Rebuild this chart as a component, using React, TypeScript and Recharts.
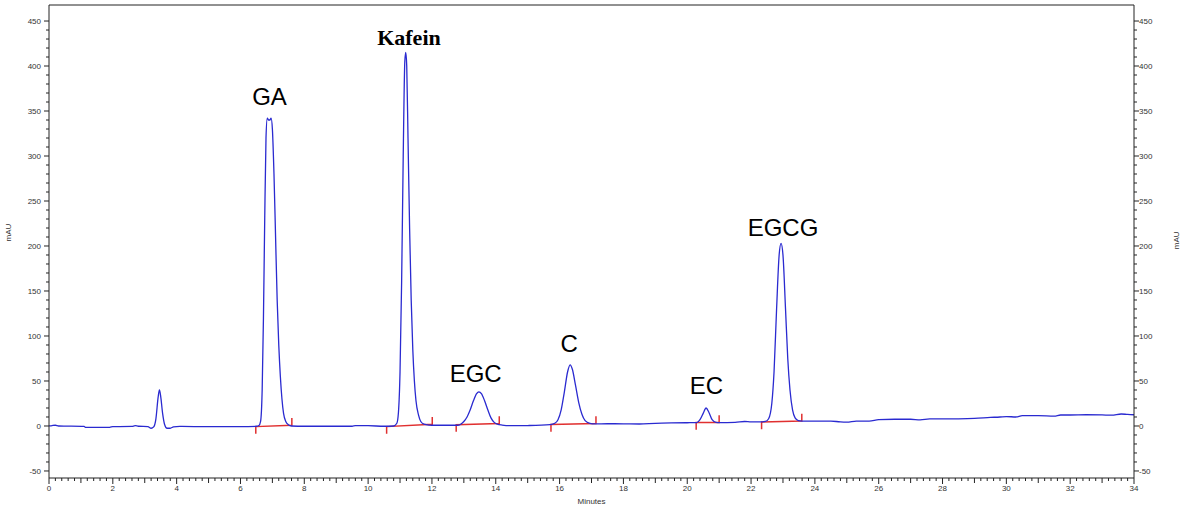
import React from "react";
import {
  ComposedChart,
  Line,
  XAxis,
  YAxis,
  Scatter,
  ReferenceLine,
} from "recharts";

// ---- chromatogram trace (minutes, mAU) ----
const traceTimes = [
  0, 0.1, 0.2, 0.3, 1.1, 1.15, 1.9, 2.0, 2.6, 2.7, 2.8, 3.1, 3.2, 3.28, 3.35, 3.42, 3.46, 3.5, 3.56, 3.62,
  3.7, 3.8, 3.9, 4.1, 5.0, 6.0, 6.5, 6.58, 6.63, 6.68, 6.72, 6.76, 6.8, 6.84, 6.88, 6.92, 6.96, 7.0, 7.05,
  7.1, 7.15, 7.2, 7.25, 7.3, 7.35, 7.42, 7.5, 7.6, 8.0, 9.5, 9.6, 10.0, 10.5, 10.8, 10.9, 10.95, 11.0,
  11.05, 11.1, 11.15, 11.18, 11.21, 11.25, 11.3, 11.35, 11.4, 11.45, 11.5, 11.58, 11.65, 11.75, 11.9,
  12.1, 12.8, 12.9, 13.0, 13.1, 13.2, 13.3, 13.4, 13.47, 13.55, 13.65, 13.75, 13.85, 13.95, 14.05, 14.2,
  14.5, 15.0, 15.7, 15.85, 15.95, 16.05, 16.15, 16.25, 16.33, 16.4, 16.5, 16.6, 16.7, 16.8, 16.95, 17.1,
  17.5, 18.0, 18.5, 19.0, 19.5, 20.0, 20.3, 20.4, 20.5, 20.59, 20.68, 20.78, 20.9, 21.0, 21.5, 21.8,
  22.0, 22.3, 22.45, 22.55, 22.65, 22.72, 22.8, 22.88, 22.94, 23.0, 23.08, 23.15, 23.22, 23.3, 23.38,
  23.48, 23.6, 24.0, 24.5, 24.8, 25.0, 25.3, 25.7, 26.0, 26.5, 27.0, 27.3, 27.6, 28.0, 28.5, 29.0, 29.5,
  29.8, 30.0, 30.3, 30.5, 31.0, 31.5, 31.7, 32.0, 32.5, 33.0, 33.3, 33.6, 33.8, 34.0,
];
const traceValues = [
  0, 0.5, 0.8, 0, -0.5, -1.5, -1.5, -0.7, -0.5, 0.3, -0.3, -0.7, -2.5, -1, 8, 32, 40, 33, 14, 2,
  -2.5, -2.5, -1, -0.5, -0.8, -0.8, -0.3, 0.5, 5, 40, 120, 230, 320, 342, 340, 340, 342, 330, 280,
  210, 140, 90, 55, 30, 14, 5, 1.5, 0, -0.3, -0.3, 0.3, 0.3, -0.3, 0, 3, 15, 60,
  160, 300, 405, 415, 400, 320, 220, 140, 85, 50, 28, 12, 5, 2, 1,
  0.8, 0.8, 2, 5, 10, 18, 28, 36, 38, 36, 28, 18, 9, 4, 2, 1,
  0.3, 0.5, 1.5, 3, 7, 18, 38, 60, 68, 63, 45, 26, 13, 6, 3, 2.3,
  2.5, 2.4, 2.2, 3, 3.4, 3.6, 3.8, 7, 14, 20, 15, 7, 4, 3.8, 4, 5,
  4.5, 4.5, 5, 8, 25, 60, 130, 190, 203, 190, 130, 75, 40, 18, 9,
  6, 5.5, 5.5, 5.5, 4.5, 4.3, 5.5, 5.5, 7, 7.5, 7.5, 6.8, 7.8, 7.8, 8, 8.5, 9.5,
  10, 10.5, 10, 11.5, 11.5, 11, 12.2, 12.2, 12.5, 12.3, 12, 13.3, 12.8, 12.5,
];

// ---- integration baselines (red) ----
const peakStartTimes = [6.48, 10.58, 12.76, 15.73, 20.28, 22.33];
const peakStartValues = [-0.7, -0.7, 1.5, 1.7, 3.8, 4.5];
const peakEndTimes = [7.61, 12.01, 14.11, 17.14, 21.0, 23.59];
const peakEndValues = [0.8, 1.9, 2.8, 2.8, 4.0, 5.6];
const markDown = 8; // start marker depth (mAU)
const markUp = 8; // end marker height (mAU)

// ---- peak names ----
const peakNames = ["GA", "Kafein", "EGC", "C", "EC", "EGCG"];
const labelTimes = [6.91, 11.28, 13.37, 16.3, 20.6, 23.0];
const labelValues = [356.7, 423.3, 48.9, 82.2, 35.6, 211.1];

// ---- axes ----
const xTickLabels = [0, 2, 4, 6, 8, 10, 12, 14, 16, 18, 20, 22, 24, 26, 28, 30, 32, 34];
const yTickLabels = [-50, 0, 50, 100, 150, 200, 250, 300, 350, 400, 450];
const X_MIN = 0;
const X_MAX = 34;
const Y_MIN = -57.8;
const Y_MAX = 467.8;

const xTicks = Array.from({ length: 171 }, (_, i) => Math.round(i * 2) / 10);
const yTicks = Array.from({ length: 51 }, (_, i) => -50 + i * 10);

const traceData = traceTimes.map((t, i) => ({ t, v: traceValues[i] }));
const peakMarks = peakStartTimes.map((s, i) => [
  { t: s, v: peakStartValues[i] - markDown },
  { t: s, v: peakStartValues[i] },
  { t: peakEndTimes[i], v: peakEndValues[i] },
  { t: peakEndTimes[i], v: peakEndValues[i] + markUp },
]);
const labelData = peakNames.map((name, i) => ({ t: labelTimes[i], v: labelValues[i], name }));

const AXIS = "#222";
const TICK_TEXT = "#333";
const FONT = "'Liberation Sans', Arial, sans-serif";

const XTick = (props: any) => {
  const { x, y, payload } = props;
  const v = payload.value;
  const r = Math.round(v);
  const isInt = Math.abs(v - r) < 1e-6;
  const isLabel = isInt && xTickLabels.includes(r);
  const len = isLabel ? 6 : isInt ? 5 : 3;
  return (
    <g>
      <line x1={x} x2={x} y1={y} y2={y + len} stroke={AXIS} strokeWidth={1} />
      {isLabel && (
        <text x={x} y={y + 13} textAnchor="middle" fontSize={8} fontFamily={FONT} fill={TICK_TEXT}>
          {r}
        </text>
      )}
    </g>
  );
};

const YTickLeft = (props: any) => {
  const { x, y, payload } = props;
  const v = payload.value;
  const isLabel = yTickLabels.includes(v);
  const len = isLabel ? 5 : 3;
  return (
    <g>
      <line x1={x - len} x2={x} y1={y} y2={y} stroke={AXIS} strokeWidth={1} />
      {isLabel && (
        <text x={x - 8} y={y + 3} textAnchor="end" fontSize={8} fontFamily={FONT} fill={TICK_TEXT}>
          {v}
        </text>
      )}
    </g>
  );
};

const YTickRight = (props: any) => {
  const { x, y, payload } = props;
  const v = payload.value;
  const isLabel = yTickLabels.includes(v);
  const len = isLabel ? 5 : 3;
  return (
    <g>
      <line x1={x} x2={x + len} y1={y} y2={y} stroke={AXIS} strokeWidth={1} />
      {isLabel && (
        <text x={x + 5} y={y + 3} textAnchor="start" fontSize={8} fontFamily={FONT} fill={TICK_TEXT}>
          {v}
        </text>
      )}
    </g>
  );
};

const PeakLabel = (props: any) => {
  const { cx, cy, payload } = props;
  const isKafein = payload.name === "Kafein";
  return (
    <text
      x={cx}
      y={cy}
      textAnchor="middle"
      fontSize={isKafein ? 22 : 24}
      fontWeight={isKafein ? "bold" : "normal"}
      fontFamily={isKafein ? "'Liberation Serif', 'Times New Roman', serif" : FONT}
      fill="#000"
    >
      {payload.name}
    </text>
  );
};

export default function App() {
  return (
    <div style={{ position: "absolute", left: 0, top: 0, width: 1180, height: 506, background: "#fff" }}>
      <ComposedChart
        width={1180}
        height={506}
        data={traceData}
        margin={{ top: 5, right: 0, bottom: 0, left: 0 }}
      >
        <XAxis
          dataKey="t"
          type="number"
          domain={[X_MIN, X_MAX]}
          ticks={xTicks}
          interval={0}
          allowDataOverflow
          height={28}
          tickSize={0}
          tickMargin={0}
          tickLine={false}
          axisLine={{ stroke: AXIS, strokeWidth: 1 }}
          tick={<XTick />}
          label={{
            value: "Minutes",
            position: "insideBottom",
            offset: 2,
            fontSize: 8,
            fontFamily: FONT,
            fill: TICK_TEXT,
          }}
        />
        <YAxis
          yAxisId="left"
          type="number"
          domain={[Y_MIN, Y_MAX]}
          ticks={yTicks}
          interval={0}
          allowDataOverflow
          width={49}
          tickSize={0}
          tickMargin={0}
          tickLine={false}
          axisLine={{ stroke: AXIS, strokeWidth: 1 }}
          tick={<YTickLeft />}
          label={{
            value: "mAU",
            angle: -90,
            position: "insideLeft",
            offset: 8,
            fontSize: 8,
            fontFamily: FONT,
            fill: TICK_TEXT,
          }}
        />
        <YAxis
          yAxisId="right"
          orientation="right"
          type="number"
          domain={[Y_MIN, Y_MAX]}
          ticks={yTicks}
          interval={0}
          allowDataOverflow
          width={46}
          tickSize={0}
          tickMargin={0}
          tickLine={false}
          axisLine={{ stroke: AXIS, strokeWidth: 1 }}
          tick={<YTickRight />}
          label={{
            value: "mAU",
            angle: -90,
            position: "insideRight",
            offset: 4,
            dy: -10,
            fontSize: 8,
            fontFamily: FONT,
            fill: TICK_TEXT,
          }}
        />
        <ReferenceLine yAxisId="left" y={Y_MAX} stroke={AXIS} strokeWidth={1} ifOverflow="visible" />
        {peakMarks.map((d, i) => (
          <Line
            key={"m" + i}
            yAxisId="left"
            data={d}
            dataKey="v"
            type="linear"
            stroke="#e03030"
            strokeWidth={1.5}
            dot={false}
            activeDot={false}
            isAnimationActive={false}
          />
        ))}
        <Line
          yAxisId="left"
          dataKey="v"
          type="monotone"
          stroke="#2a2ad0"
          strokeWidth={1.3}
          dot={false}
          activeDot={false}
          isAnimationActive={false}
        />
        <Scatter
          yAxisId="left"
          data={labelData}
          dataKey="v"
          shape={<PeakLabel />}
          isAnimationActive={false}
        />
      </ComposedChart>
    </div>
  );
}
